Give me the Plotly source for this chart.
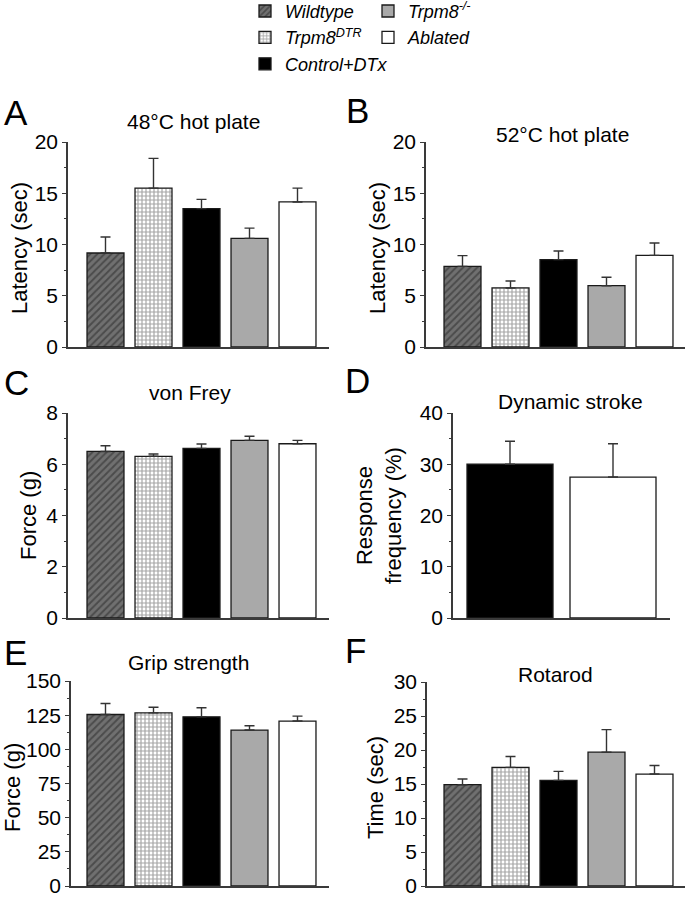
import plotly.graph_objects as go

# ---------------- data ----------------
groups = ["Wildtype", "Trpm8DTR", "Control+DTx", "Trpm8-/-", "Ablated"]
legend_labels = ["<i>Wildtype</i>", "<i>Trpm8<sup>DTR</sup></i>", "<i>Control+DTx</i>",
                 "<i>Trpm8<sup>-/-</sup></i>", "<i>Ablated</i>"]

hot48_mean = [9.17, 15.5, 13.5, 10.6, 14.15]
hot48_sem = [1.56, 2.9, 0.9, 1.0, 1.35]

hot52_mean = [7.87, 5.76, 8.52, 5.98, 8.94]
hot52_sem = [1.04, 0.68, 0.85, 0.82, 1.21]

vonfrey_mean = [6.50, 6.31, 6.62, 6.93, 6.80]
vonfrey_sem = [0.22, 0.09, 0.17, 0.16, 0.13]

stroke_groups = ["Control+DTx", "Ablated"]
stroke_mean = [30.0, 27.5]
stroke_sem = [4.5, 6.5]

grip_mean = [125.5, 126.7, 123.8, 114.1, 120.7]
grip_sem = [8.0, 4.1, 6.6, 3.2, 3.6]

rotarod_mean = [14.9, 17.44, 15.54, 19.68, 16.46]
rotarod_sem = [0.83, 1.6, 1.31, 3.31, 1.27]

# ---------------- styles ----------------
W, H = 687, 899
FONT = "Liberation Sans, Arial, Helvetica, sans-serif"
AX = "#3a3a3a"


def px(x):
    return x / W


def py(y):
    return 1 - y / H


styles = {
    "Wildtype": dict(color="#5e5e5e",
                     pattern=dict(shape="/", fgcolor="#262626", bgcolor="#707070",
                                  size=5, solidity=0.4)),
    "Trpm8DTR": dict(color="#aaaaaa",
                     pattern=dict(shape="+", fgcolor="#4a4a4a", bgcolor="#ffffff",
                                  size=4, solidity=0.5)),
    "Control+DTx": dict(color="#000000"),
    "Trpm8-/-": dict(color="#a9a9a9"),
    "Ablated": dict(color="#ffffff"),
}
legend_of = {"Wildtype": "legend", "Trpm8DTR": "legend", "Control+DTx": "legend",
             "Trpm8-/-": "legend2", "Ablated": "legend2"}

# panel geometry in pixels: axis left, axis right, top (ymax), bottom (0),
# first-bar centre and category spacing
panels = [
    dict(letter="A", title="48°C hot plate", ytitle="Latency (sec)",
         g=groups, m=hot48_mean, s=hot48_sem, ymax=20, dtick=5, minor=2.5,
         xl=68, xr=329, yt=142, yb=347, c0=105.5, sp=48, bw=0.77,
         lx=16, ly=112, tx=193, ty=122, ax=19, ay=248),
    dict(letter="B", title="52°C hot plate", ytitle="Latency (sec)",
         g=groups, m=hot52_mean, s=hot52_sem, ymax=20, dtick=5, minor=2.5,
         xl=426, xr=685, yt=142, yb=347, c0=462.5, sp=48, bw=0.77,
         lx=357, ly=110, tx=562, ty=134, ax=377, ay=248),
    dict(letter="C", title="von Frey", ytitle="Force (g)",
         g=groups, m=vonfrey_mean, s=vonfrey_sem, ymax=8, dtick=2, minor=1,
         xl=68, xr=329, yt=413, yb=618, c0=105.5, sp=48, bw=0.77,
         lx=16, ly=382, tx=190, ty=393, ax=28, ay=516),
    dict(letter="D", title="Dynamic stroke", ytitle="Response<br>frequency (%)",
         g=stroke_groups, m=stroke_mean, s=stroke_sem, ymax=40, dtick=10, minor=5,
         xl=453, xr=670, yt=413, yb=618, c0=510, sp=103, bw=0.835,
         lx=357, ly=380, tx=570, ty=401, ax=379, ay=516),
    dict(letter="E", title="Grip strength", ytitle="Force (g)",
         g=groups, m=grip_mean, s=grip_sem, ymax=150, dtick=25, minor=12.5,
         xl=71, xr=329, yt=681, yb=886, c0=105.5, sp=48, bw=0.77,
         lx=15, ly=652, tx=189, ty=662, ax=12, ay=788),
    dict(letter="F", title="Rotarod", ytitle="Time (sec)",
         g=groups, m=rotarod_mean, s=rotarod_sem, ymax=30, dtick=5, minor=2.5,
         xl=427, xr=685, yt=682, yb=886, c0=462.5, sp=48, bw=0.77,
         lx=355, ly=650, tx=555, ty=674, ax=375, ay=788),
]

fig = go.Figure()
layout = dict(width=W, height=H, margin=dict(l=0, r=0, t=0, b=0, autoexpand=False),
              paper_bgcolor="white", plot_bgcolor="white",
              barmode="overlay", font=dict(family=FONT, color="black", size=17),
              annotations=[])

for i, p in enumerate(panels):
    n = "" if i == 0 else str(i + 1)
    xa, ya = "x" + n, "y" + n
    for gname, val, err in zip(p["g"], p["m"], p["s"]):
        st = styles[gname]
        marker = dict(color=st["color"], line=dict(color="#1a1a1a", width=1.3))
        if "pattern" in st:
            marker["pattern"] = st["pattern"]
        fig.add_trace(go.Bar(
            x=[gname], y=[val], width=p["bw"], xaxis=xa, yaxis=ya,
            marker=marker,
            error_y=dict(type="data", array=[err], arrayminus=[0], symmetric=False,
                         color="#333333", thickness=1.4, width=5),
            name=legend_labels[groups.index(gname)],
            legend=legend_of[gname], showlegend=(i == 0),
        ))
    x0 = (p["xl"] - p["c0"]) / p["sp"]
    x1 = (p["xr"] - p["c0"]) / p["sp"]
    layout["xaxis" + n] = dict(domain=[px(p["xl"]), px(p["xr"])], anchor=ya,
                               range=[x0, x1], showline=True, linecolor=AX, linewidth=1.5,
                               showticklabels=False, ticks="", showgrid=False,
                               zeroline=False, fixedrange=True)
    layout["yaxis" + n] = dict(domain=[py(p["yb"]), py(p["yt"])], anchor=xa,
                               range=[0, p["ymax"]], dtick=p["dtick"], tick0=0,
                               showline=True, linecolor=AX, linewidth=1.5,
                               ticks="outside", ticklen=4, tickwidth=1.3, tickcolor=AX,
                               minor=dict(dtick=p["minor"], ticks="outside", ticklen=2,
                                          tickwidth=1, tickcolor=AX),
                               tickfont=dict(size=21, family=FONT, color="black"),
                               ticklabeloverflow="allow",
                               showgrid=False, zeroline=False, fixedrange=True)
    layout["annotations"] += [
        dict(text=p["letter"], x=px(p["lx"]), y=py(p["ly"]), xref="paper", yref="paper",
             showarrow=False, font=dict(size=35, family=FONT, color="black"),
             xanchor="center", yanchor="middle"),
        dict(text=p["title"], x=px(p["tx"]), y=py(p["ty"]), xref="paper", yref="paper",
             showarrow=False, font=dict(size=21, family=FONT, color="black"),
             xanchor="center", yanchor="middle"),
        dict(text=p["ytitle"], x=px(p["ax"]), y=py(p["ay"]), xref="paper", yref="paper",
             showarrow=False, textangle=-90, font=dict(size=22, family=FONT, color="black"),
             xanchor="center", yanchor="middle"),
    ]

layout["legend"] = dict(x=px(245), y=1.008, xanchor="left", yanchor="top",
                        font=dict(size=18, family=FONT, color="black"),
                        bgcolor="rgba(0,0,0,0)", tracegroupgap=0, itemwidth=30)
layout["legend2"] = dict(x=px(368), y=1.008, xanchor="left", yanchor="top",
                         font=dict(size=18, family=FONT, color="black"),
                         bgcolor="rgba(0,0,0,0)", tracegroupgap=0, itemwidth=30)

fig.update_layout(**layout)
fig.write_html("out.html", config={"displayModeBar": False},
               post_script="document.body.style.margin='0';"
                           "document.body.style.overflow='hidden';")
